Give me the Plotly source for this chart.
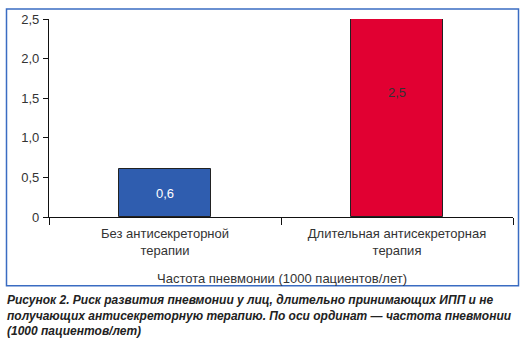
import plotly.graph_objects as go

categories = ["Без антисекреторной<br>терапии", "Длительная антисекреторная<br>терапия"]
values = [0.6, 2.5]
bar_colors = ["#2F5DAF", "#E10032"]
label_colors = ["#FFFFFF", "#333333"]
label_y = [0.3, 1.57]
y_tickvals = [0, 0.5, 1.0, 1.5, 2.0, 2.5]
y_ticktext = ["0", "0,5", "1,0", "1,5", "2,0", "2,5"]
x_title = "Частота пневмонии (1000 пациентов/лет)"
caption = ("Рисунок 2. Риск развития пневмонии у лиц, длительно принимающих ИПП и не<br>"
           "получающих антисекреторную терапию. По оси ординат — частота пневмонии<br>"
           "(1000 пациентов/лет)")

W, H = 524, 344
L, R, T, B = 49, 11, 18.5, 127
pw, ph = W - L - R, H - T - B

def px_to_paper_x(px):
    return (px - L) / pw

def px_to_paper_y(py):
    return (H - B - py) / ph

fig = go.Figure()
fig.add_trace(go.Bar(
    x=categories, y=values, width=0.4,
    marker=dict(color=bar_colors, line=dict(color="#222222", width=1)),
    hoverinfo="skip", showlegend=False,
))

for c, v, ly, lc in zip(categories, values, label_y, label_colors):
    fig.add_annotation(x=c, y=ly, xref="x", yref="y",
                       text=f"{v:.1f}".replace(".", ","), showarrow=False,
                       font=dict(family="Liberation Sans, Arial", size=13, color=lc))

fig.add_shape(type="rect", xref="paper", yref="paper",
              x0=px_to_paper_x(6.5), x1=px_to_paper_x(518.5),
              y0=px_to_paper_y(286), y1=px_to_paper_y(8.5),
              line=dict(color="#3A6CC2", width=1.5), fillcolor="rgba(0,0,0,0)")

fig.add_annotation(xref="paper", yref="paper",
                   x=px_to_paper_x(282), y=px_to_paper_y(279),
                   text=x_title, showarrow=False, xanchor="center", yanchor="middle",
                   font=dict(family="Liberation Sans, Arial", size=13, color="#333333"))

fig.add_annotation(xref="paper", yref="paper",
                   x=px_to_paper_x(5), y=px_to_paper_y(291),
                   text="<b><i>" + caption + "</i></b>", showarrow=False,
                   xanchor="left", yanchor="top", align="left",
                   font=dict(family="Liberation Sans, Arial", size=12.0, color="#222222"))

fig.update_layout(
    width=W, height=H,
    margin=dict(l=L, r=R, t=T, b=B),
    paper_bgcolor="white", plot_bgcolor="white",
    bargap=0,
    font=dict(family="Liberation Sans, Arial", color="#333333"),
    xaxis=dict(
        type="category", range=[-0.5, 1.5],
        showline=True, linecolor="#111111", linewidth=1.2,
        ticks="outside", ticklen=7, tickcolor="#111111", tickwidth=1.2,
        tickson="boundaries", showgrid=False, ticklabelstandoff=4,
        tickfont=dict(size=13, color="#333333"),
    ),
    yaxis=dict(
        range=[0, 2.5], tickvals=y_tickvals, ticktext=y_ticktext,
        showline=True, linecolor="#111111", linewidth=1.2,
        ticks="outside", ticklen=5, tickcolor="#111111", tickwidth=1.2,
        showgrid=False, zeroline=False, ticklabelstandoff=1,
        tickfont=dict(size=13, color="#333333"),
    ),
)

fig.write_html("out.html")
